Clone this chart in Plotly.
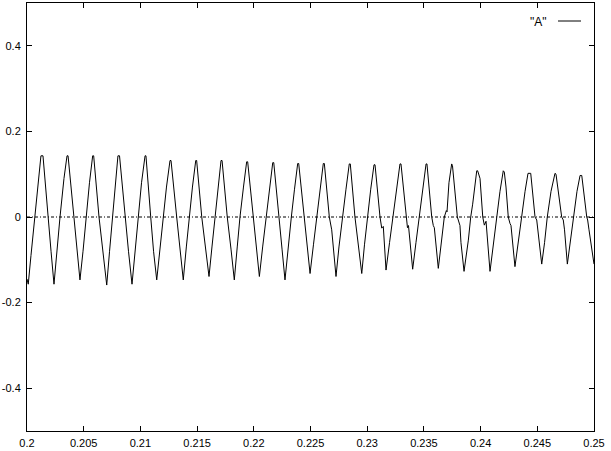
import plotly.graph_objects as go

# Time (s) and amplitude
t = [0.20000, 0.20011, 0.20035, 0.20071, 0.20101, 0.20123, 0.20141, 0.20183, 0.20212, 0.20238,
     0.20265, 0.20291, 0.20326, 0.20353, 0.20362, 0.20414, 0.20441, 0.20467, 0.20494, 0.20520,
     0.20551, 0.20579, 0.20588, 0.20635, 0.20670, 0.20703, 0.20728, 0.20756, 0.20780, 0.20802,
     0.20816, 0.20864, 0.20895, 0.20926, 0.20952, 0.20979, 0.21010, 0.21041, 0.21049, 0.21091,
     0.21116, 0.21144, 0.21173, 0.21199, 0.21230, 0.21261, 0.21270, 0.21320, 0.21349, 0.21378,
     0.21405, 0.21431, 0.21459, 0.21488, 0.21496, 0.21541, 0.21574, 0.21605, 0.21631, 0.21658,
     0.21684, 0.21711, 0.21720, 0.21766, 0.21799, 0.21828, 0.21854, 0.21878, 0.21909, 0.21937,
     0.21946, 0.21996, 0.22024, 0.22049, 0.22078, 0.22108, 0.22138, 0.22167, 0.22176, 0.22225,
     0.22249, 0.22275, 0.22302, 0.22331, 0.22359, 0.22387, 0.22396, 0.22443, 0.22469, 0.22496,
     0.22526, 0.22555, 0.22584, 0.22613, 0.22622, 0.22666, 0.22687, 0.22725, 0.22751, 0.22780,
     0.22813, 0.22842, 0.22851, 0.22892, 0.22923, 0.22952, 0.22976, 0.23001, 0.23031, 0.23060,
     0.23069, 0.23113, 0.23128, 0.23142, 0.23166, 0.23197, 0.23225, 0.23258, 0.23289, 0.23298,
     0.23342, 0.23355, 0.23364, 0.23401, 0.23430, 0.23457, 0.23488, 0.23519, 0.23527, 0.23569,
     0.23583, 0.23592, 0.23627, 0.23655, 0.23680, 0.23698, 0.23704, 0.23721, 0.23745, 0.23752,
     0.23774, 0.23795, 0.23818, 0.23827, 0.23854, 0.23892, 0.23913, 0.23930, 0.23966, 0.23974,
     0.23995, 0.24019, 0.24033, 0.24048, 0.24083, 0.24114, 0.24142, 0.24171, 0.24200, 0.24209,
     0.24224, 0.24244, 0.24259, 0.24268, 0.24303, 0.24334, 0.24362, 0.24392, 0.24418, 0.24442,
     0.24480, 0.24495, 0.24506, 0.24539, 0.24564, 0.24588, 0.24621, 0.24656, 0.24665, 0.24715,
     0.24729, 0.24740, 0.24765, 0.24793, 0.24818, 0.24850, 0.24877, 0.24892, 0.24936, 0.24944,
     0.24956, 0.24994, 0.25000]

a = [-0.145, -0.157, -0.090, 0.000, 0.080, 0.143, 0.143, 0.000, -0.080, -0.157,
     -0.070, 0.000, 0.090, 0.143, 0.143, 0.000, -0.077, -0.147, -0.080, 0.000,
     0.080, 0.143, 0.143, 0.000, -0.080, -0.159, -0.080, 0.000, 0.080, 0.143,
     0.143, 0.000, -0.080, -0.157, -0.080, 0.000, 0.080, 0.143, 0.143, 0.000,
     -0.080, -0.147, -0.070, 0.000, 0.070, 0.132, 0.132, 0.000, -0.075, -0.147,
     -0.070, 0.000, 0.070, 0.132, 0.132, 0.000, -0.070, -0.139, -0.070, 0.000,
     0.070, 0.132, 0.132, 0.000, -0.075, -0.147, -0.070, 0.000, 0.070, 0.129,
     0.129, 0.000, -0.070, -0.139, -0.070, 0.000, 0.065, 0.127, 0.127, 0.000,
     -0.075, -0.147, -0.070, 0.000, 0.065, 0.125, 0.125, 0.000, -0.070, -0.132,
     -0.065, 0.000, 0.065, 0.125, 0.125, 0.000, -0.030, -0.139, -0.070, 0.000,
     0.065, 0.124, 0.124, 0.000, -0.065, -0.132, -0.065, 0.000, 0.065, 0.122,
     0.122, 0.000, -0.026, -0.022, -0.124, -0.060, 0.000, 0.065, 0.124, 0.124,
     0.000, -0.025, -0.020, -0.122, -0.060, 0.000, 0.065, 0.124, 0.124, 0.000,
     -0.020, -0.025, -0.120, -0.060, 0.000, 0.015, 0.012, 0.080, 0.124, 0.120,
     0.050, 0.000, -0.020, -0.060, -0.127, -0.054, 0.000, 0.030, 0.108, 0.108,
     0.090, 0.000, -0.019, -0.010, -0.127, -0.060, 0.000, 0.060, 0.108, 0.105,
     0.070, 0.000, -0.015, -0.020, -0.116, -0.060, 0.000, 0.060, 0.102, 0.102,
     0.000, -0.007, -0.030, -0.110, -0.060, 0.000, 0.060, 0.102, 0.100, 0.000,
     -0.007, -0.030, -0.110, -0.055, 0.000, 0.060, 0.097, 0.097, 0.000, -0.007,
     -0.030, -0.110, -0.110]

x_ticks = [0.2, 0.205, 0.21, 0.215, 0.22, 0.225, 0.23, 0.235, 0.24, 0.245, 0.25]
x_tick_text = ["0.2", "0.205", "0.21", "0.215", "0.22", "0.225", "0.23", "0.235", "0.24", "0.245", "0.25"]
y_ticks = [-0.4, -0.2, 0, 0.2, 0.4]
y_tick_text = ["-0.4", "-0.2", "0", "0.2", "0.4"]
series_name = '"A"'

W, H = 611, 451
ML, MR, MT, MB = 27, 17, 3, 20
pw, ph = W - ML - MR, H - MT - MB
FONT = dict(family="Liberation Sans, Arial, sans-serif", size=11, color="black")

fig = go.Figure()
fig.add_trace(go.Scatter(x=t, y=a, mode="lines", name=series_name,
                         line=dict(color="black", width=1), showlegend=False))

# zero axis (dotted)
fig.add_shape(type="line", xref="paper", yref="y", x0=0, x1=1, y0=0, y1=0,
              line=dict(color="black", width=1, dash="3px,2px,1px,2px"), layer="below")

# gnuplot-style key: text then line sample
def px2paper_x(px):
    return (px - ML) / pw

def py2paper_y(py):
    return (H - MB - py) / ph

fig.add_annotation(text=series_name, xref="paper", yref="paper",
                   x=px2paper_x(549), y=py2paper_y(22), xanchor="right", yanchor="middle",
                   showarrow=False, font=dict(FONT, size=12))
fig.add_shape(type="line", xref="paper", yref="paper",
              x0=px2paper_x(558), x1=px2paper_x(581), y0=py2paper_y(21), y1=py2paper_y(21),
              line=dict(color="black", width=1))

axis_common = dict(showgrid=False, zeroline=False, showline=True, linecolor="black", linewidth=1,
                   mirror="allticks", ticks="inside", ticklen=5, tickcolor="black", tickwidth=1,
                   automargin=False, tickfont=FONT)

fig.update_layout(
    width=W, height=H,
    margin=dict(l=ML, r=MR, t=MT, b=MB, pad=0),
    paper_bgcolor="white", plot_bgcolor="white",
    xaxis=dict(range=[0.2, 0.25], tickvals=x_ticks, ticktext=x_tick_text,
               ticklabelstandoff=2, **axis_common),
    yaxis=dict(range=[-0.5, 0.5], tickvals=y_ticks, ticktext=y_tick_text,
               ticklabelstandoff=3, **axis_common),
    showlegend=False,
)

fig.write_html("out.html", config={"displayModeBar": False},
               post_script="document.body.style.margin='0';document.body.style.padding='0';")
